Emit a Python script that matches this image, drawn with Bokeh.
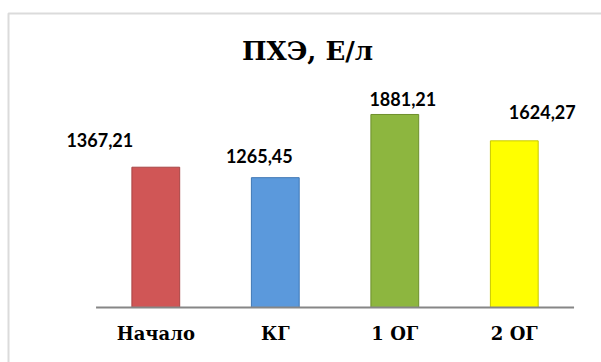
from bokeh.plotting import figure
from bokeh.models import ColumnDataSource, Range1d, Label, BoxAnnotation
from bokeh.core.properties import value
from bokeh.embed import file_html
from bokeh.resources import INLINE

# ---- data ----
categories = ["Начало", "КГ", "1 ОГ", "2 ОГ"]
values = [1367.21, 1265.45, 1881.21, 1624.27]
title_text = "ПХЭ, Е/л"

# ---- styles ----
bar_colors = ["#D05656", "#5B99DC", "#8DB63F", "#FFFF00"]
bar_edges = ["#A84444", "#3F77B5", "#6D8F2C", "#C9C900"]
label_dx = [-56, -16, 8, 28]   # label offsets (px) as placed in the original
label_dy = [27, 22, 15, 29]
SERIF = "DejaVu Serif"

labels = [f"{v:.2f}".replace(".", ",") for v in values]
xpos = [i + 0.5 for i in range(len(categories))]   # category slot centres

src = ColumnDataSource(dict(x=xpos, cat=categories, val=values, color=bar_colors,
                            edge=bar_edges, lab=labels, dx=label_dx,
                            dy=[-d for d in label_dy], zero=[0] * len(values)))

p = figure(width=601, height=362,
           x_range=Range1d(-0.7996, 4.2297),
           y_range=Range1d(-536, 2992),
           output_backend="svg", toolbar_location=None,
           min_border_left=0, min_border_right=0, min_border_top=0,
           min_border_bottom=0)
p.outline_line_color = None
p.background_fill_color = "white"
p.border_fill_color = "white"
p.xgrid.visible = False
p.ygrid.visible = False
p.xaxis.visible = False
p.yaxis.visible = False

# chart area border
p.add_layout(BoxAnnotation(left=8, right=800, top=362 - 13, bottom=-200,
                           left_units="screen", right_units="screen",
                           top_units="screen", bottom_units="screen",
                           fill_color=None, line_color="#888888", line_width=2,
                           level="underlay"))

p.vbar(x="x", top="val", width=0.4, source=src, fill_color="color",
       line_color="edge", line_width=1)

# category axis line
p.segment(x0=[0], x1=[len(categories)], y0=[0], y1=[0],
          line_color="#868686", line_width=2)

# data labels
p.text(x="x", y="val", text="lab", source=src, x_offset="dx", y_offset="dy",
       text_font=value("Lato"), text_font_style="bold", text_font_size="18px",
       text_align="center", text_baseline="middle", text_color="black")

# category labels
p.text(x="x", y="zero", text="cat", source=src, y_offset=26,
       text_font=value(SERIF), text_font_style="bold", text_font_size="18px",
       text_align="center", text_baseline="middle", text_color="black")

p.add_layout(Label(x=307, y=362 - 50, x_units="screen", y_units="screen",
                   text=title_text, text_font=SERIF, text_font_style="bold",
                   text_font_size="26px", text_align="center", text_baseline="middle",
                   text_color="black"))

open("out.html", "w").write(file_html(p, INLINE))
